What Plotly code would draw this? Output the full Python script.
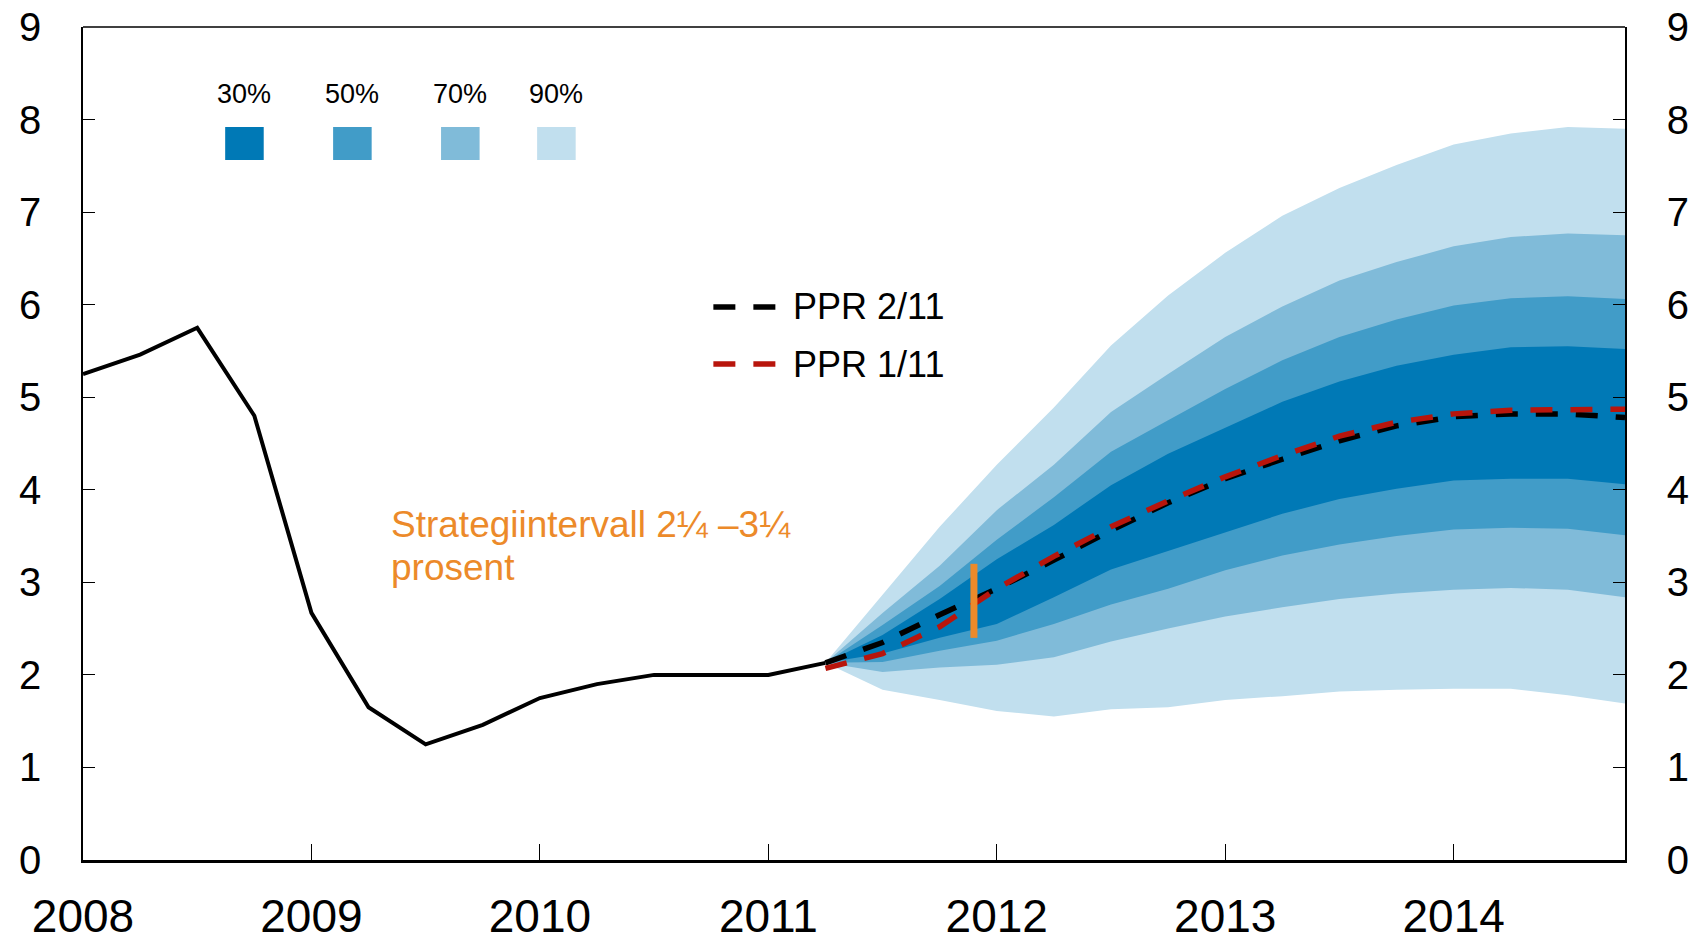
import plotly.graph_objects as go

# Historical policy rate (quarterly)
hist_x = [2008.0, 2008.25, 2008.5, 2008.75, 2009.0, 2009.25, 2009.5, 2009.75,
          2010.0, 2010.25, 2010.5, 2010.75, 2011.0, 2011.25]
hist_rate = [5.25, 5.46, 5.75, 4.80, 2.67, 1.65, 1.25, 1.46,
             1.75, 1.90, 2.00, 2.00, 2.00, 2.13]

# Forecast quarters
fc_x = [2011.25, 2011.5, 2011.75, 2012.0, 2012.25, 2012.5, 2012.75, 2013.0,
        2013.25, 2013.5, 2013.75, 2014.0, 2014.25, 2014.5, 2014.75]

ppr_2_11 = [2.13, 2.35, 2.65, 2.93, 3.24, 3.56, 3.86, 4.12,
            4.33, 4.53, 4.69, 4.79, 4.82, 4.82, 4.78]
ppr_1_11 = [2.07, 2.23, 2.52, 2.93, 3.28, 3.60, 3.88, 4.14,
            4.37, 4.58, 4.73, 4.82, 4.86, 4.87, 4.87]

# Fan chart band limits
upper90 = [2.13, 2.86, 3.60, 4.27, 4.89, 5.56, 6.10, 6.56, 6.96, 7.26, 7.51, 7.73, 7.85, 7.92, 7.90]
upper70 = [2.13, 2.67, 3.18, 3.78, 4.27, 4.84, 5.25, 5.65, 5.98, 6.26, 6.46, 6.63, 6.73, 6.77, 6.75]
upper50 = [2.13, 2.54, 2.96, 3.46, 3.92, 4.41, 4.75, 5.09, 5.40, 5.65, 5.84, 5.99, 6.07, 6.09, 6.06]
upper30 = [2.13, 2.43, 2.82, 3.25, 3.62, 4.05, 4.39, 4.67, 4.95, 5.17, 5.34, 5.46, 5.54, 5.55, 5.52]
lower30 = [2.13, 2.23, 2.40, 2.55, 2.84, 3.14, 3.34, 3.54, 3.74, 3.90, 4.01, 4.10, 4.12, 4.12, 4.06]
lower50 = [2.13, 2.14, 2.26, 2.37, 2.55, 2.76, 2.93, 3.13, 3.29, 3.41, 3.50, 3.57, 3.59, 3.58, 3.51]
lower70 = [2.13, 2.03, 2.08, 2.11, 2.19, 2.36, 2.50, 2.63, 2.73, 2.82, 2.88, 2.92, 2.94, 2.92, 2.84]
lower90 = [2.13, 1.84, 1.73, 1.61, 1.55, 1.63, 1.65, 1.73, 1.77, 1.82, 1.84, 1.85, 1.85, 1.78, 1.69]

# Strategy interval marker
strat_x = [2011.9, 2011.9]
strat_y = [2.4, 3.2]

band_labels = ['30%', '50%', '70%', '90%']
band_colors = ['#0079b6', '#419cc8', '#80bbd9', '#c1dfee']
line_names = ['PPR 2/11', 'PPR 1/11']
line_colors = ['black', '#b8150c']
year_ticks = [2008, 2009, 2010, 2011, 2012, 2013, 2014]
y_ticks = [0, 1, 2, 3, 4, 5, 6, 7, 8, 9]

FONT = 'Liberation Sans, Arial, sans-serif'
ORANGE = '#ec8a2a'
DASH = '22px,18px'

fig = go.Figure()

# Fan bands, widest (lightest) first
bands = [(upper90, lower90, band_colors[3]),
         (upper70, lower70, band_colors[2]),
         (upper50, lower50, band_colors[1]),
         (upper30, lower30, band_colors[0])]
for up, lo, col in bands:
    fig.add_trace(go.Scatter(
        x=fc_x + fc_x[::-1], y=up + lo[::-1], fill='toself', fillcolor=col,
        line=dict(width=0), mode='lines', showlegend=False, hoverinfo='skip'))

fig.add_trace(go.Scatter(x=hist_x, y=hist_rate, mode='lines',
                         line=dict(color='black', width=4), showlegend=False))
for ys, name, col in zip([ppr_2_11, ppr_1_11], line_names, line_colors):
    fig.add_trace(go.Scatter(x=fc_x, y=ys, mode='lines', name=name,
                             line=dict(color=col, width=5.5, dash=DASH),
                             showlegend=False))
fig.add_trace(go.Scatter(x=strat_x, y=strat_y, mode='lines', showlegend=False,
                         line=dict(color=ORANGE, width=7)))

# invisible trace to carry the right-hand axis
fig.add_trace(go.Scatter(x=[2008], y=[0], yaxis='y2', mode='markers',
                         marker=dict(opacity=0), showlegend=False,
                         hoverinfo='skip'))

# Orange label, two lines
fig.add_annotation(x=2009.34, y=3.63, xref='x', yref='y', xanchor='left',
                   yanchor='middle', showarrow=False,
                   text='Strategiintervall 2¼ –3¼',
                   font=dict(family=FONT, size=37, color=ORANGE))
fig.add_annotation(x=2009.34, y=3.16, xref='x', yref='y', xanchor='left',
                   yanchor='middle', showarrow=False, text='prosent',
                   font=dict(family=FONT, size=37, color=ORANGE))

# Band legend (labels over coloured squares)
legend_x = [0.1047, 0.1747, 0.2447, 0.307]
for lx, lab, col in zip(legend_x, band_labels, band_colors):
    fig.add_annotation(x=lx, y=0.9196, xref='paper', yref='paper',
                       xanchor='center', yanchor='middle',
                       showarrow=False, text=lab,
                       font=dict(family=FONT, size=27, color='black'))
    fig.add_shape(type='rect', xref='paper', yref='paper',
                  x0=lx - 0.0125, x1=lx + 0.0125, y0=0.8403, y1=0.88,
                  fillcolor=col, line=dict(width=0))

# Line legend
for ly, name, col in zip([0.6639, 0.5954], line_names, line_colors):
    fig.add_shape(type='line', xref='paper', yref='paper',
                  x0=0.4088, x1=0.4496, y0=ly, y1=ly,
                  line=dict(color=col, width=5.5, dash=DASH))
    fig.add_annotation(x=0.4593, y=ly, xref='paper', yref='paper',
                       xanchor='left', yanchor='middle', showarrow=False,
                       text=name, font=dict(family=FONT, size=36,
                                            color='black'))

# top frame line (thinner than the bottom axis)
fig.add_shape(type='line', xref='paper', yref='paper', x0=0, x1=1, y0=1,
              y1=1, line=dict(color='black', width=1.5))

# the page body adds an 8px offset, so margins are set 8px short at left/top
yax = dict(range=[0, 9], tickvals=y_ticks, ticks='inside', ticklen=12,
           tickcolor='black', showline=True, linecolor='black',
           linewidth=1.5, showgrid=False, zeroline=False,
           ticklabelstandoff=32, tickfont=dict(size=40),
           automargin=False, ticklabeloverflow='allow')
fig.update_layout(
    width=1702, height=939,
    margin=dict(l=75, r=85, t=19, b=87),
    plot_bgcolor='white', paper_bgcolor='white',
    font=dict(family=FONT, color='black'),
    showlegend=False,
    xaxis=dict(range=[2008, 2014.75], tickvals=year_ticks,
               ticks='inside', ticklen=16, tickcolor='black', tickwidth=1,
               showline=True, linecolor='black', linewidth=2.5,
               showgrid=False, zeroline=False, ticklabelstandoff=14,
               tickfont=dict(size=46), automargin=False,
               ticklabeloverflow='allow'),
    yaxis=yax,
    yaxis2=dict(yax, overlaying='y', side='right'),
)

fig.write_html('out.html')
